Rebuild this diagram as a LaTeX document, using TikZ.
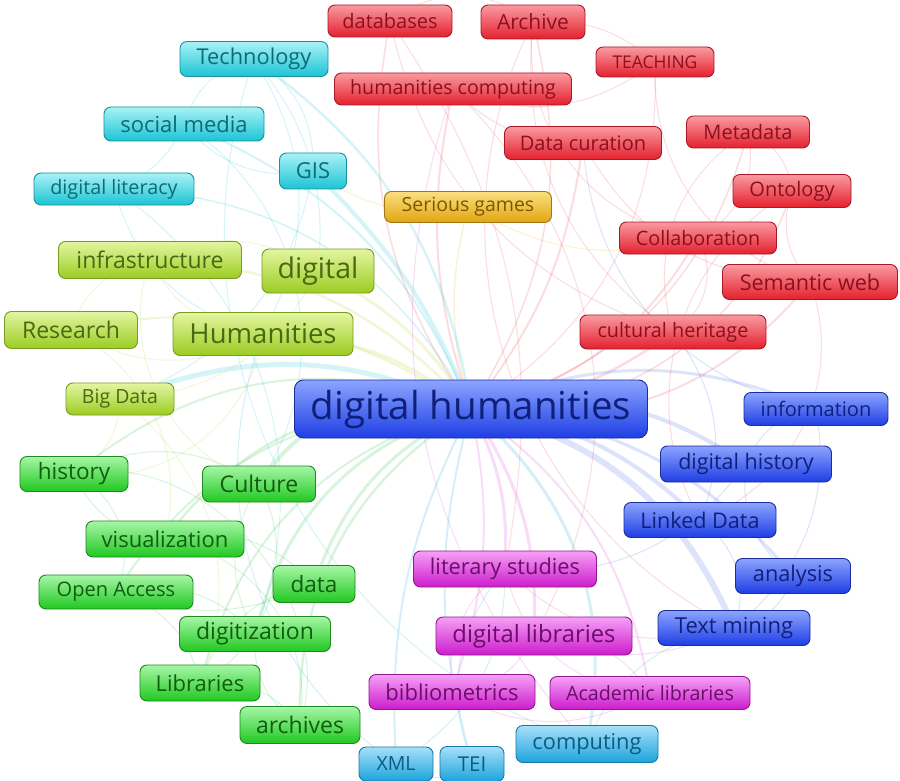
\documentclass[tikz,border=0pt]{standalone}
\usepackage{fontspec}
\setmainfont{Open Sans}
\pgfdeclarelayer{background}
\pgfsetlayers{background,main}
\newcommand\fsz[1]{\fontsize{#1}{#1}\selectfont}
% cluster colours
\definecolor{rdT}{HTML}{FA9AA0}\definecolor{rdB}{HTML}{E4202E}\definecolor{rdD}{HTML}{A81828}\definecolor{rdX}{HTML}{8A1020}\definecolor{rdE}{HTML}{F06070}
\definecolor{orT}{HTML}{FBE080}\definecolor{orB}{HTML}{E2A410}\definecolor{orD}{HTML}{A07810}\definecolor{orX}{HTML}{7A5800}\definecolor{orE}{HTML}{F0C040}
\definecolor{cyT}{HTML}{A8F2F6}\definecolor{cyB}{HTML}{1CC4D4}\definecolor{cyD}{HTML}{1890A0}\definecolor{cyX}{HTML}{0E6A74}\definecolor{cyE}{HTML}{40D0E0}
\definecolor{ygT}{HTML}{E2F6A0}\definecolor{ygB}{HTML}{9CCC22}\definecolor{ygD}{HTML}{7A9A20}\definecolor{ygX}{HTML}{4A6812}\definecolor{ygE}{HTML}{C0E050}
\definecolor{blT}{HTML}{8CA4FF}\definecolor{blB}{HTML}{1E3EE4}\definecolor{blD}{HTML}{1C2C9A}\definecolor{blX}{HTML}{10207A}\definecolor{blE}{HTML}{6080F0}
\definecolor{grT}{HTML}{A6F6A6}\definecolor{grB}{HTML}{20C820}\definecolor{grD}{HTML}{1C8A1C}\definecolor{grX}{HTML}{0E5E0E}\definecolor{grE}{HTML}{50D060}
\definecolor{mgT}{HTML}{F6A0F6}\definecolor{mgB}{HTML}{CC1CCC}\definecolor{mgD}{HTML}{901890}\definecolor{mgX}{HTML}{6A0E6A}\definecolor{mgE}{HTML}{E060E0}
\definecolor{skT}{HTML}{A6E0FA}\definecolor{skB}{HTML}{1CA4DC}\definecolor{skD}{HTML}{1878A8}\definecolor{skX}{HTML}{0E5A80}\definecolor{skE}{HTML}{40B8E8}
\tikzset{
  kw/.style={rounded corners=7pt, line width=0.9pt, inner sep=0pt, align=center},
  kwc/.style={kw, top color=#1T, bottom color=#1B, draw=#1D, text=#1X},
  red/.style={kwc=rd}, orange/.style={kwc=or}, cyan/.style={kwc=cy},
  ygreen/.style={kwc=yg}, blue/.style={kwc=bl}, green/.style={kwc=gr},
  magenta/.style={kwc=mg}, sky/.style={kwc=sk},
  sz/.style n args={3}{minimum width=#1, minimum height=#2, font=\fsz{#3}},
  lk/.style={draw opacity=0.22, line width=#1},
  lk/.default=1pt
}
\begin{document}
\begin{tikzpicture}[x=1pt,y=-1pt]
\useasboundingbox (0,0) rectangle (900,781);

% red cluster
\node[red, sz={124}{32}{20}] (databases) at (390,21) {databases};
\node[red, sz={104}{34}{21}] (archive) at (533,22) {Archive};
\node[red, sz={118}{30}{17.5}] (teaching) at (655,62) {TEACHING};
\node[red, sz={237}{32}{19.6}] (hcomp) at (453,89) {humanities computing};
\node[red, sz={157}{33}{20}] (curation) at (583,143) {Data curation};
\node[red, sz={123}{32}{20}] (metadata) at (748,132) {Metadata};
\node[red, sz={118}{33}{20}] (ontology) at (792,191) {Ontology};
\node[red, sz={157}{32}{19.8}] (collab) at (698,238) {Collaboration};
\node[red, sz={175}{35}{21.6}] (semweb) at (810,282) {Semantic web};
\node[red, sz={186}{34}{19.8}] (heritage) at (673,332) {cultural heritage};
% orange cluster
\node[orange, sz={167}{31}{19.5}] (serious) at (468,207) {Serious games};
% cyan cluster
\node[cyan, sz={148}{35}{21.8}] (tech) at (254,59) {Technology};
\node[cyan, sz={160}{34}{22}] (social) at (184,124) {social media};
\node[cyan, sz={67}{36}{22}] (gis) at (313,171) {GIS};
\node[cyan, sz={160}{32}{19.8}] (literacy) at (114,189) {digital literacy};
% yellow-green cluster
\node[ygreen, sz={183}{37}{23}] (infra) at (150,260) {infrastructure};
\node[ygreen, sz={112}{44}{28.5}] (digital) at (318,271) {digital};
\node[ygreen, sz={133}{37}{23}] (research) at (71,330) {Research};
\node[ygreen, sz={180}{43}{27.5}] (humanities) at (263,334) {Humanities};
\node[ygreen, sz={108}{32}{19.5}] (bigdata) at (120,399) {Big Data};
% blue cluster
\node[blue, sz={144}{33}{20}] (information) at (816,409) {information};
\node[blue, sz={171}{36}{21.5}] (dhistory) at (746,464) {digital history};
\node[blue, sz={152}{35}{21.6}] (linked) at (700,520) {Linked Data};
\node[blue, sz={115}{35}{21.7}] (analysis) at (793,576) {analysis};
\node[blue, sz={152}{35}{22}] (textmining) at (734,628) {Text mining};
% green cluster
\node[green, sz={108}{35}{22.5}] (history) at (74,474) {history};
\node[green, sz={113}{36}{23}] (culture) at (259,484) {Culture};
\node[green, sz={158}{36}{22}] (visual) at (165,539) {visualization};
\node[green, sz={154}{34}{20}] (openaccess) at (116,592) {Open Access};
\node[green, sz={82}{37}{22.5}] (data) at (314,584) {data};
\node[green, sz={151}{35}{23}] (digitization) at (255,634) {digitization};
\node[green, sz={120}{36}{22}] (libraries) at (200,683) {Libraries};
\node[green, sz={120}{37}{23}] (archives) at (300,725) {archives};
% magenta cluster
\node[magenta, sz={183}{36}{21.8}] (literary) at (505,569) {literary studies};
\node[magenta, sz={196}{38}{23.8}] (dlibraries) at (534,636) {digital libraries};
\node[magenta, sz={166}{35}{22}] (biblio) at (452,692) {bibliometrics};
\node[magenta, sz={200}{33}{19.7}] (academic) at (650,693) {Academic libraries};
% light-blue cluster
\node[sky, sz={142}{37}{21.8}] (computing) at (587,744) {computing};
\node[sky, sz={74}{34}{19.5}] (xml) at (396,764) {XML};
\node[sky, sz={64}{35}{20.5}] (tei) at (472,764) {TEI};
% central keyword
\node[blue, rounded corners=9pt, sz={353}{58}{38.5}] (dh) at (471,409) {digital humanities};

\begin{pgfonlayer}{background}
\fill[white] (0,0) rectangle (900,781);
% links from the central keyword
\foreach \t/\c/\w/\b [evaluate=\b as \bb using 1.5*\b] in {
  databases/rdE/1.5/15, archive/rdE/1.5/-15, teaching/rdE/1/-20, hcomp/rdE/2/10,
  curation/rdE/2/-10, metadata/rdE/1.5/-20, ontology/rdE/1.5/-25, collab/rdE/2/-15,
  semweb/rdE/2/-20, heritage/rdE/2.5/-10, serious/orE/1.5/10,
  tech/cyE/2.5/-15, social/cyE/2/-15, gis/cyE/4/-8, literacy/cyE/1.5/-20,
  infra/ygE/2.5/-15, digital/ygE/3/-10, research/ygE/2/-15, humanities/ygE/3.5/-12, bigdata/cyE/5/-15,
  information/blE/3/15, dhistory/blE/4/15, linked/blE/4/12, analysis/blE/3/15, textmining/blE/6/18,
  history/grE/2/-20, culture/grE/4/-25, visual/grE/2.5/-20, openaccess/grE/2/-20, data/grE/3/-15,
  digitization/grE/3/-20, libraries/grE/2/-20, archives/grE/2.5/-20,
  literary/mgE/3/10, dlibraries/mgE/3/12, biblio/mgE/2/10, academic/mgE/2/15,
  computing/skE/3/20, xml/skE/2/-10, tei/skE/2/-10}
  \draw[lk=\w pt, draw=\c] (dh.center) to[bend left=\bb] (\t.center);
% links between other keywords
\foreach \s/\t/\c/\b [evaluate=\b as \bb using 1.5*\b] in {
  tech/gis/cyE/20, tech/digital/cyE/15, tech/humanities/cyE/20, social/literacy/cyE/15,
  social/gis/cyE/-20, literacy/humanities/cyE/-20, tech/social/cyE/-20, gis/bigdata/cyE/20,
  social/culture/cyE/30, tech/computing/cyE/-30, literacy/digitization/cyE/25,
  research/infra/ygE/20, research/humanities/ygE/-20, infra/digital/ygE/20, bigdata/history/ygE/20,
  infra/humanities/ygE/-20, research/visual/ygE/25, infra/culture/ygE/-30, digital/bigdata/ygE/20,
  humanities/history/ygE/30, bigdata/libraries/ygE/25,
  history/visual/grE/-20, history/culture/grE/20, culture/digitization/grE/-20, openaccess/libraries/grE/20,
  libraries/archives/grE/20, digitization/archives/grE/-20, visual/data/grE/20, openaccess/data/grE/-15,
  history/archives/grE/40, culture/libraries/grE/30, openaccess/digitization/grE/20, visual/archives/grE/30,
  history/openaccess/grE/30, data/libraries/grE/-20,
  metadata/ontology/rdE/20, ontology/semweb/rdE/-20, semweb/linked/rdE/30, archive/teaching/rdE/15,
  databases/heritage/rdE/-20, hcomp/curation/rdE/-15, archive/collab/rdE/-30, metadata/collab/rdE/25,
  databases/archive/rdE/25, hcomp/teaching/rdE/-20, curation/semweb/rdE/-20, heritage/collab/rdE/-30,
  archive/textmining/rdE/-30, teaching/semweb/rdE/-25, databases/literary/rdE/15, hcomp/dlibraries/rdE/25,
  metadata/heritage/rdE/-25, ontology/linked/rdE/-30, archive/heritage/rdE/-20,
  hcomp/computing/mgE/-20, literary/textmining/mgE/-20, dlibraries/academic/mgE/20, biblio/academic/mgE/-20,
  literary/biblio/mgE/-20, dlibraries/biblio/mgE/20, literary/academic/mgE/-25, dlibraries/textmining/mgE/-15,
  xml/tei/skE/-25, tei/literary/skE/20, xml/literary/skE/-20, computing/textmining/skE/20, xml/humanities/skE/25,
  information/textmining/blE/20, dhistory/analysis/blE/-20, linked/heritage/blE/-20, analysis/textmining/blE/20,
  information/dhistory/blE/-20, linked/textmining/blE/25, dhistory/literary/blE/20, information/curation/blE/25,
  serious/gis/orE/15, serious/collab/orE/-15}
  \draw[lk=1pt, draw=\c] (\s.center) to[bend left=\bb] (\t.center);
\end{pgfonlayer}
\end{tikzpicture}
\end{document}
